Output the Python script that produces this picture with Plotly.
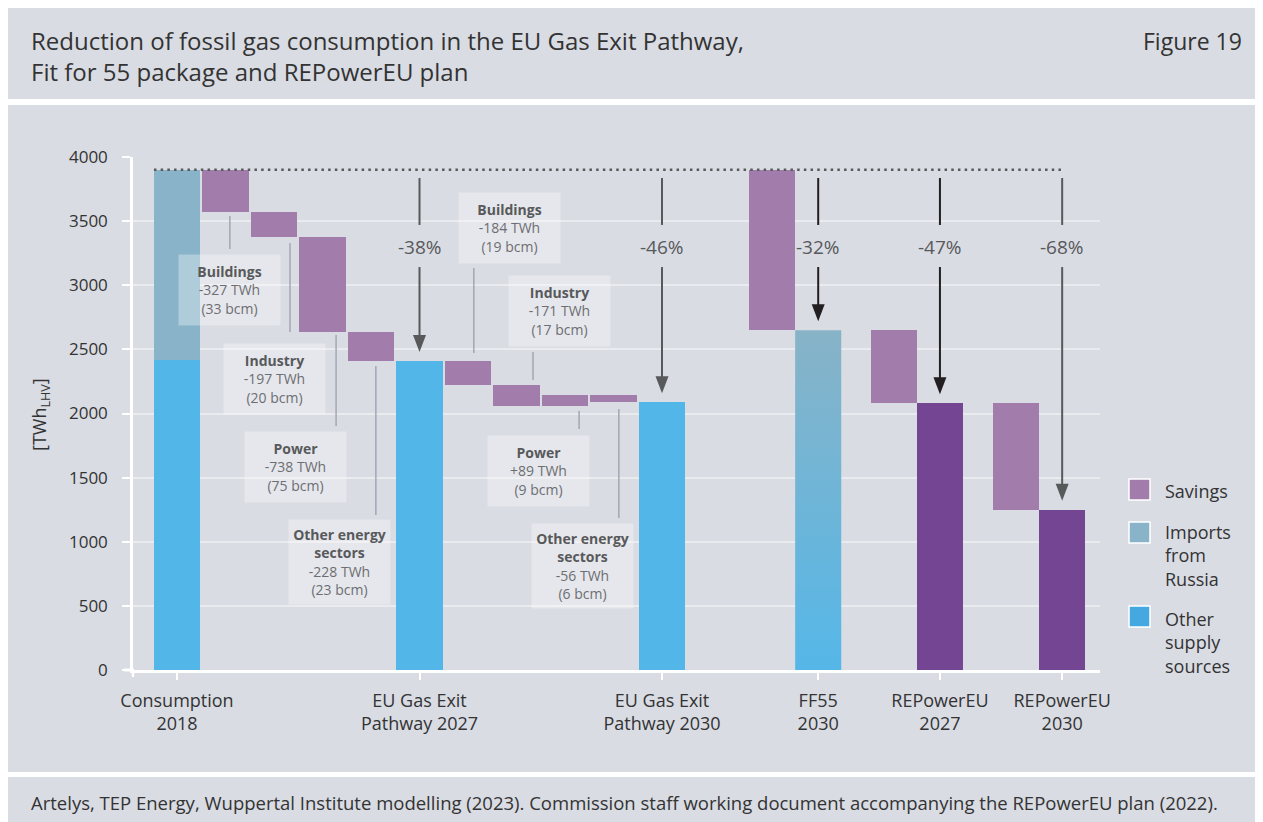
import plotly.graph_objects as go

# ---------------- data ----------------
categories = ["Consumption<br>2018", "EU Gas Exit<br>Pathway 2027", "EU Gas Exit<br>Pathway 2030",
              "FF55<br>2030", "REPowerEU<br>2027", "REPowerEU<br>2030"]
other_supply_2018 = 2420      # TWh
imports_russia_2018 = 1480    # TWh
sectors = ["Buildings", "Industry", "Power", "Other energy<br>sectors"]
change_2027 = [-327, -197, -738, -228]   # TWh, 2018 -> EU Gas Exit 2027
bcm_2027 = [33, 20, 75, 23]
change_2030 = [-184, -171, 89, -56]      # TWh, 2027 -> EU Gas Exit 2030
bcm_2030 = [19, 17, 9, 6]
ff55_2030 = 2650
repower_2027 = 2080
repower_2030 = 1250
reduction_labels = ["-38%", "-46%", "-32%", "-47%", "-68%"]
legend_labels = ["Savings", "Imports<br>from<br>Russia", "Other<br>supply<br>sources"]

# ---------------- layout / style ----------------
FONT = "Open Sans"
BG = "#d9dce3"
C_SAV = "#a27dac"
C_RUS = "#88b3c8"
C_OTH = "#52b6e8"
C_REP = "#734593"
C_TXT = "#333333"
C_GREY = "#58595b"
W = 0.95
x_cat = [0, 5, 10, 13.22, 15.73, 18.25]
x_steps_2027 = [1, 2, 3, 4]
x_steps_2030 = [6, 7, 8, 9]

# page pixel geometry (page body has an 8 px margin)
OFF = 8
FIG_W, FIG_H = 1263 - OFF, 822 - OFF
PLOT_L, PLOT_R, PLOT_T, PLOT_B = 133, 1100, 157, 670   # page pixels of the plot area
PW, PH = PLOT_R - PLOT_L, PLOT_B - PLOT_T
L, T = PLOT_L - OFF, PLOT_T - OFF
R, B = FIG_W - L - PW, FIG_H - T - PH


def PX(px):
    return (px - PLOT_L) / PW


def PY(py):
    return (PLOT_B - py) / PH


total_2018 = other_supply_2018 + imports_russia_2018
eu_2027 = total_2018 + sum(change_2027)
eu_2030 = eu_2027 + sum(change_2030)


def steps(start, changes):
    bases, lens, level = [], [], start
    for c in changes:
        bases.append(min(level, level + c))
        lens.append(abs(c))
        level += c
    return bases, lens


b27, l27 = steps(total_2018, change_2027)
b30, l30 = steps(eu_2027, change_2030)
sav_x = x_steps_2027 + x_steps_2030 + [x_cat[3] - W, x_cat[4] - W, x_cat[5] - W]
sav_base = b27 + b30 + [ff55_2030, repower_2027, repower_2030]
sav_len = l27 + l30 + [total_2018 - ff55_2030, ff55_2030 - repower_2027, repower_2027 - repower_2030]

fig = go.Figure()
fig.add_trace(go.Bar(x=[x_cat[0], x_cat[1], x_cat[2]], y=[other_supply_2018, eu_2027, eu_2030],
                     width=W, marker=dict(color=C_OTH, line_width=0), name="Other supply sources"))
fig.add_trace(go.Bar(x=[x_cat[0]], y=[imports_russia_2018], base=[other_supply_2018], width=W,
                     marker=dict(color=C_RUS, line_width=0), name="Imports from Russia"))
fig.add_trace(go.Bar(x=sav_x, y=sav_len, base=sav_base, width=W,
                     marker=dict(color=C_SAV, line_width=0), name="Savings"))
fig.add_trace(go.Bar(x=[x_cat[4], x_cat[5]], y=[repower_2027, repower_2030], width=W,
                     marker=dict(color=C_REP, line_width=0), name="REPowerEU"))
# FF55 bar with vertical gradient (imports -> other supply)
xf = x_cat[3]
fig.add_trace(go.Scatter(x=[xf - W / 2, xf + W / 2, xf + W / 2, xf - W / 2, xf - W / 2],
                         y=[0, 0, ff55_2030, ff55_2030, 0], mode="lines", fill="toself",
                         line=dict(width=0), hoverinfo="skip",
                         fillgradient=dict(type="vertical",
                                           colorscale=[[0, "#55b7e8"], [1, "#88b3c7"]])))
# dotted reference line at 2018 level
fig.add_trace(go.Scatter(x=[x_cat[0] - W / 2, x_cat[5] + 0.02], y=[total_2018, total_2018],
                         mode="lines", line=dict(color=C_GREY, width=2.5, dash="2.5px,4.2px"),
                         hoverinfo="skip"))

shapes = []
annotations = []

# frame: white separator strips (page pixels)
for x0, y0, x1, y1 in [(0, 99, 1263, 105), (0, 772, 1263, 777)]:
    shapes.append(dict(type="rect", xref="paper", yref="paper", x0=PX(x0), x1=PX(x1), y0=PY(y1), y1=PY(y0),
                       fillcolor="white", line_width=0, layer="below"))
# axis line extensions
shapes.append(dict(type="line", xref="paper", yref="paper", x0=PX(124), x1=PX(134), y0=0, y1=0,
                   line=dict(color="white", width=3)))
shapes.append(dict(type="line", xref="paper", yref="paper", x0=0, x1=0, y0=PY(677), y1=0,
                   line=dict(color="white", width=2.5)))

# sector annotation boxes: (x centre, y centre, width px, height px)
boxes_2027 = [(1.08, 2963, 101, 70), (2.01, 2269, 101, 70), (2.44, 1583, 101, 70), (3.35, 842, 101, 84)]
boxes_2030 = [(6.86, 3446, 101, 70), (7.89, 2799, 101, 70), (7.45, 1552, 101, 70), (8.36, 811, 101, 84)]
conn_2027 = [(1.09, 3540, 3283), (2.33, 3329, 2635), (3.28, 2612, 1903), (4.10, 2370, 1209)]
conn_2030 = [(6.12, 3134, 2472), (7.34, 2480, 2261), (8.29, 2020, 1879), (9.11, 2035, 1185)]

for boxes, conns, changes, bcms in [(boxes_2027, conn_2027, change_2027, bcm_2027),
                                    (boxes_2030, conn_2030, change_2030, bcm_2030)]:
    for (bx, by, bw, bh), (cx, cy0, cy1), name, ch, bc in zip(boxes, conns, sectors, changes, bcms):
        shapes.append(dict(type="line", xref="x", yref="y", x0=cx, x1=cx, y0=cy0, y1=cy1,
                           line=dict(color="#a3a7b3", width=1.5)))
        sign = "+" if ch > 0 else "-"
        bold = "<br>".join("<b>%s</b>" % p for p in name.split("<br>"))
        txt = (bold + "<br><span style='color:#6d6e71'>%s%d TWh</span><br><span style='color:#6d6e71'>(%d bcm)</span>"
               % (sign, abs(ch), bc))
        annotations.append(dict(x=bx, y=by, xref="x", yref="y", text=txt, showarrow=False,
                                width=bw, height=bh, bgcolor="rgba(255,255,255,0.33)", borderpad=0,
                                font=dict(family=FONT, size=14, color="#58595b"), align="center",
                                valign="middle"))

# reduction arrows
arrow_x = [x_cat[1], x_cat[2], x_cat[3], x_cat[4], x_cat[5]]
arrow_top = [eu_2027, eu_2030, ff55_2030, repower_2027, repower_2030]
arrow_col = [C_GREY, C_GREY, "#231f20", "#231f20", C_GREY]
for ax_, top, col, lab in zip(arrow_x, arrow_top, arrow_col, reduction_labels):
    shapes.append(dict(type="line", xref="x", yref="y", x0=ax_, x1=ax_, y0=3836, y1=3470,
                       line=dict(color=col, width=2)))
    shapes.append(dict(type="line", xref="x", yref="y", x0=ax_, x1=ax_, y0=3142, y1=top + 160,
                       line=dict(color=col, width=2)))
    shapes.append(dict(type="path", xref="x", yref="y", xsizemode="pixel", ysizemode="pixel",
                       xanchor=ax_, yanchor=top, path="M-6.5,26 L6.5,26 L0,9 Z",
                       fillcolor=col, line_width=0))
    annotations.append(dict(x=ax_, y=3298, xref="x", yref="y", text=lab, showarrow=False,
                            font=dict(family=FONT, size=19, color=C_GREY)))

# custom legend
leg_cols = [C_SAV, C_RUS, "#45a8e0"]
leg_sw = [(479, 500), (522, 543), (606, 627)]
leg_txt_y = [491, 555, 642]
for col, (y0, y1), ty, lab in zip(leg_cols, leg_sw, leg_txt_y, legend_labels):
    shapes.append(dict(type="rect", xref="paper", yref="paper", x0=PX(1129), x1=PX(1150),
                       y0=PY(y1), y1=PY(y0), fillcolor=col, line=dict(color="white", width=1.5)))
    annotations.append(dict(x=PX(1163), y=PY(ty), xref="paper", yref="paper", text=lab,
                            showarrow=False, xanchor="left", yanchor="middle", align="left",
                            font=dict(family=FONT, size=18, color=C_TXT)))

# titles, y-axis title, footer
annotations.append(dict(x=PX(29), y=PY(56), xref="paper", yref="paper", xanchor="left", yanchor="middle",
                        align="left", showarrow=False,
                        text="Reduction of fossil gas consumption in the EU Gas Exit Pathway,<br>Fit for 55 package and REPowerEU plan",
                        font=dict(family=FONT, size=24, color=C_TXT)))
annotations.append(dict(x=PX(1244), y=PY(41), xref="paper", yref="paper", xanchor="right", yanchor="middle",
                        showarrow=False, text="Figure 19", font=dict(family=FONT, size=23, color=C_TXT)))
annotations.append(dict(x=PX(40), y=PY(415), xref="paper", yref="paper", xanchor="center", yanchor="middle",
                        showarrow=False, textangle=-90, text="[TWh<sub>LHV</sub>]",
                        font=dict(family=FONT, size=18, color=C_TXT)))
annotations.append(dict(x=PX(29), y=PY(802), xref="paper", yref="paper", xanchor="left", yanchor="middle",
                        showarrow=False,
                        text="Artelys, TEP Energy, Wuppertal Institute modelling (2023). Commission staff working document accompanying the REPowerEU plan (2022).",
                        font=dict(family=FONT, size=18.5, color=C_TXT)))

fig.update_layout(
    width=FIG_W, height=FIG_H, autosize=False,
    margin=dict(l=L, r=R, t=T, b=B, pad=0),
    paper_bgcolor=BG, plot_bgcolor="rgba(0,0,0,0)",
    barmode="overlay", bargap=0, showlegend=False,
    font=dict(family=FONT, color=C_TXT),
    shapes=shapes, annotations=annotations,
    xaxis=dict(range=[-0.907, 19.03], showgrid=False, zeroline=False,
               tickmode="array", tickvals=x_cat, ticktext=categories,
               ticks="outside", ticklen=7, tickwidth=2, tickcolor="white",
               showline=True, linecolor="white", linewidth=3,
               tickfont=dict(family=FONT, size=18, color=C_TXT), ticklabelstandoff=5),
    yaxis=dict(range=[0, 4000], tickmode="array", tickvals=list(range(0, 4001, 500)),
               showgrid=True, gridcolor="#eaebef", gridwidth=2, zeroline=False,
               ticks="outside", ticklen=8, tickwidth=2, tickcolor="white",
               showline=True, linecolor="white", linewidth=2.5,
               tickfont=dict(family=FONT, size=17, color=C_TXT), ticklabelstandoff=11),
)

fig.write_html("out.html")
